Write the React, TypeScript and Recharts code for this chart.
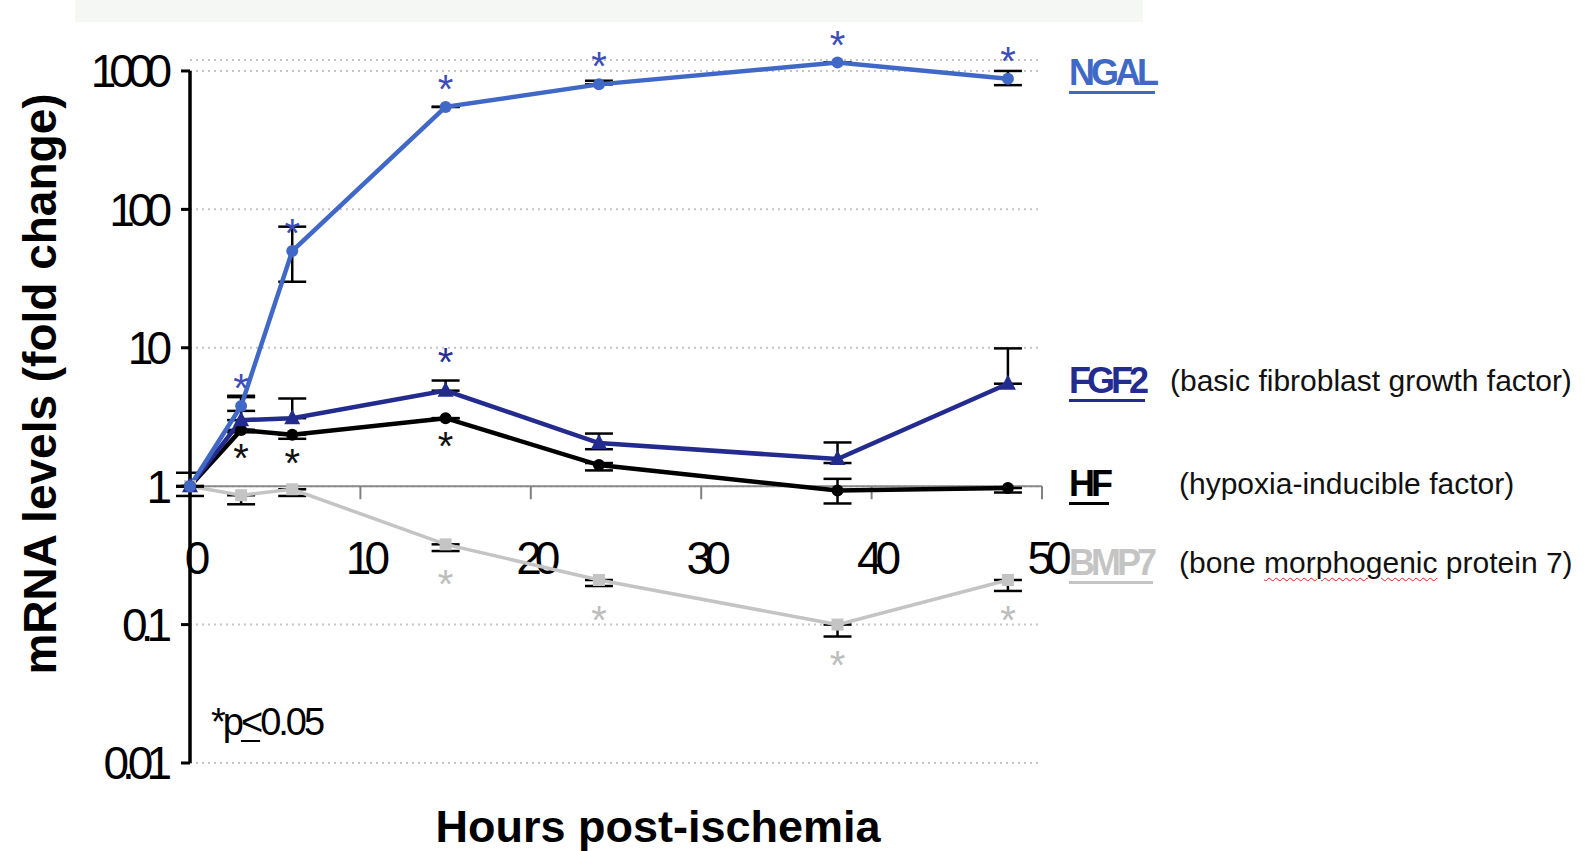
import React from 'react';
import {
  LineChart,
  Line,
  XAxis,
  YAxis,
  CartesianGrid,
  ErrorBar,
  LabelList,
  ReferenceLine,
  Legend,
} from 'recharts';

// Horas tras la isquemia
const horas = [0, 3, 6, 15, 24, 38, 48];

// Niveles de ARNm (veces de cambio)
const ngal = [1, 3.8, 50, 550, 800, 1150, 880];
const fgf2 = [1, 3.0, 3.1, 4.9, 2.05, 1.57, 5.5];
const hf = [1, 2.55, 2.35, 3.1, 1.42, 0.93, 0.97];
const bmp7 = [1, 0.86, 0.95, 0.38, 0.21, 0.1, 0.21];

// Barras de error [hacia abajo, hacia arriba]
const ngalErr = [[0, 0], [0.3, 0.7], [20, 25], [0, 0], [0, 50], [0, 0], [90, 120]];
const fgf2Err = [[0, 0], [0, 1.4], [0, 1.2], [0, 0.9], [0.2, 0.35], [0.1, 0.5], [0, 4.4]];
const hfErr = [[0.15, 0.25], [0.1, 0], [0.15, 0], [0, 0], [0.12, 0.05], [0.18, 0.2], [0.07, 0]];
const bmp7Err = [[0, 0], [0.12, 0], [0.1, 0], [0.04, 0], [0.02, 0], [0.018, 0], [0.035, 0]];

// Significación (p<0.05)
const ngalSig = [0, 1, 1, 1, 1, 1, 1];
const fgf2Sig = [0, 0, 0, 1, 0, 0, 0];
const hfSig = [0, 1, 1, 1, 0, 0, 0];
const bmp7Sig = [0, 0, 0, 1, 1, 1, 1];

const ticksY = [0.01, 0.1, 1, 10, 100, 1000];
const ticksX = [0, 10, 20, 30, 40, 50];

const nombres = ['NGAL', 'FGF2', 'HF', 'BMP7'];
const descripciones = ['', '(basic fibroblast growth factor)', '(hypoxia-inducible factor)', '(bone morphogenic protein 7)'];

const datos = horas.map((h, i) => ({
  h,
  ngal: ngal[i],
  fgf2: fgf2[i],
  hf: hf[i],
  bmp7: bmp7[i],
  ngalErr: ngalErr[i],
  fgf2Err: fgf2Err[i],
  hfErr: hfErr[i],
  bmp7Err: bmp7Err[i],
  ngalSig: ngalSig[i],
  fgf2Sig: fgf2Sig[i],
  hfSig: hfSig[i],
  bmp7Sig: bmp7Sig[i],
}));

const FUENTE = '"Liberation Sans", Arial, Helvetica, sans-serif';

const COLORES = {
  ngal: '#4068c6',
  fgf2: '#242b8e',
  hf: '#000000',
  bmp7: '#c4c4c4',
};

const punto = (forma: string, color: string) => (props: any) => {
  const { cx, cy, index } = props;
  if (cx == null || cy == null) return <g key={`p-${index}`} />;
  if (forma === 'triangulo') {
    return <path key={`p-${index}`} d={`M${cx},${cy - 9}L${cx + 8},${cy + 6}L${cx - 8},${cy + 6}Z`} fill={color} />;
  }
  if (forma === 'cuadrado') {
    return <rect key={`p-${index}`} x={cx - 6} y={cy - 6} width={12} height={12} fill={color} />;
  }
  return <circle key={`p-${index}`} cx={cx} cy={cy} r={6} fill={color} />;
};

const estrella = (color: string, dy: number) => (props: any) => {
  const { x, y, value, index } = props;
  if (!value || x == null || y == null) return null;
  return (
    <text key={`s-${index}`} x={x} y={y + dy} textAnchor="middle" fontSize={40} fill={color} fontFamily={FUENTE}>
      *
    </text>
  );
};

// marca del eje X sobre la línea y = 1
const marcaX = (t: number) => (props: any) => {
  const { x1, y1 } = props;
  return (
    <g>
      {t > 0 && <line x1={x1} y1={y1} x2={x1} y2={y1 + 13} stroke="#808080" strokeWidth={2} />}
      <text x={x1 + 4} y={y1 + 88} textAnchor="middle" fontSize={46} letterSpacing={-7} fontFamily={FUENTE} fill="#000">
        {t}
      </text>
    </g>
  );
};

const posLeyenda: Record<string, { top: number; desc: number }> = {
  NGAL: { top: 55, desc: 0 },
  FGF2: { top: 363, desc: 1170 },
  HF: { top: 466, desc: 1179 },
  BMP7: { top: 545, desc: 1179 },
};

const Leyenda = (props: any) => {
  const { payload = [] } = props;
  return (
    <div style={{ position: 'relative', width: 1585, height: 851 }}>
      {payload.map((item: any) => {
        const nombre = item.value;
        const i = nombres.indexOf(nombre);
        const pos = posLeyenda[nombre];
        if (!pos) return null;
        const desc = descripciones[i];
        return (
          <React.Fragment key={nombre}>
            <div
              style={{
                position: 'absolute',
                left: 1069,
                top: pos.top,
                fontFamily: FUENTE,
                fontWeight: 'bold',
                fontSize: 36,
                lineHeight: '36px',
                letterSpacing: -4,
                color: item.color,
                textDecoration: 'underline',
                textDecorationThickness: '3px',
                textUnderlineOffset: '6px',
                whiteSpace: 'nowrap',
              }}
            >
              {nombre}
            </div>
            {desc && (
              <div
                style={{
                  position: 'absolute',
                  left: pos.desc,
                  top: pos.top + 3,
                  fontFamily: FUENTE,
                  fontSize: 30,
                  lineHeight: '30px',
                  color: '#111',
                  whiteSpace: 'nowrap',
                }}
              >
                {desc.split(' ').map((palabra, k) => (
                  <React.Fragment key={k}>
                    {k > 0 && ' '}
                    {palabra === 'morphogenic' ? (
                      <span style={{ textDecoration: 'underline wavy #e02020', textDecorationThickness: '1px', textUnderlineOffset: '4px' }}>
                        {palabra}
                      </span>
                    ) : (
                      palabra
                    )}
                  </React.Fragment>
                ))}
              </div>
            )}
          </React.Fragment>
        );
      })}
    </div>
  );
};

export default function App() {
  return (
    <div style={{ position: 'absolute', left: 0, top: 0, width: 1585, height: 851, background: '#fff', overflow: 'hidden' }}>
      <div style={{ position: 'absolute', left: 75, top: 0, width: 1068, height: 22, background: '#f5f7f5' }} />
      <LineChart width={1585} height={851} data={datos} margin={{ top: 60, right: 543, bottom: 0, left: 0 }}>
        <CartesianGrid vertical={false} stroke="#c4c4c4" strokeWidth={2} strokeDasharray="2 4" />
        <XAxis
          dataKey="h"
          type="number"
          domain={[0, 50]}
          ticks={ticksX}
          tick={false}
          tickLine={false}
          axisLine={false}
          height={88}
          label={{
            content: () => (
              <text x={658} y={842} textAnchor="middle" fontSize={45} fontWeight="bold" fontFamily={FUENTE} fill="#000">
                Hours post-ischemia
              </text>
            ),
          }}
        />
        <YAxis
          scale="log"
          domain={[0.01, 1200]}
          ticks={ticksY}
          width={190}
          axisLine={false}
          tickLine={{ stroke: '#000', strokeWidth: 3 }}
          tickSize={9}
          tickMargin={16}
          tickFormatter={(v: number) => String(v)}
          tick={{ fontSize: 46, fill: '#000', fontFamily: FUENTE, letterSpacing: -7 }}
          label={{
            content: () => (
              <text
                x={56}
                y={384}
                transform="rotate(-90, 56, 384)"
                textAnchor="middle"
                fontSize={46}
                fontWeight="bold"
                fontFamily={FUENTE}
                fill="#000"
              >
                mRNA levels (fold change)
              </text>
            ),
          }}
        />
        <ReferenceLine y={1} stroke="#8a8a8a" strokeWidth={2} ifOverflow="visible" />
        {ticksX.map((t) => (
          <ReferenceLine
            key={`tx-${t}`}
            segment={[{ x: t, y: 1 }, { x: t, y: 1 }]}
            ifOverflow="visible"
            shape={marcaX(t)}
          />
        ))}
        <ReferenceLine
          segment={[{ x: 0, y: 0.01 }, { x: 0, y: 1000 }]}
          stroke="#000"
          strokeWidth={3.5}
          ifOverflow="visible"
        />
        <Legend
          layout="vertical"
          align="center"
          verticalAlign="middle"
          wrapperStyle={{ left: 0, top: 0, width: 1585, height: 851, pointerEvents: 'none' }}
          content={<Leyenda />}
        />
        <Line
          dataKey="bmp7"
          name="BMP7"
          stroke={COLORES.bmp7}
          strokeWidth={3.5}
          dot={punto('cuadrado', COLORES.bmp7)}
          isAnimationActive={false}
        >
          <ErrorBar dataKey="bmp7Err" width={14} strokeWidth={2.5} stroke="#000" direction="y" />
          <LabelList dataKey="bmp7Sig" content={estrella('#bdbdbd', 54)} />
        </Line>
        <Line
          dataKey="hf"
          name="HF"
          stroke={COLORES.hf}
          strokeWidth={4.5}
          dot={punto('circulo', COLORES.hf)}
          isAnimationActive={false}
        >
          <ErrorBar dataKey="hfErr" width={14} strokeWidth={2.5} stroke="#000" direction="y" />
          <LabelList dataKey="hfSig" content={estrella('#111', 42)} />
        </Line>
        <Line
          dataKey="fgf2"
          name="FGF2"
          stroke={COLORES.fgf2}
          strokeWidth={4.5}
          dot={punto('triangulo', COLORES.fgf2)}
          isAnimationActive={false}
        >
          <ErrorBar dataKey="fgf2Err" width={14} strokeWidth={2.5} stroke="#000" direction="y" />
          <LabelList dataKey="fgf2Sig" content={estrella('#2a2f95', -15)} />
        </Line>
        <Line
          dataKey="ngal"
          name="NGAL"
          stroke={COLORES.ngal}
          strokeWidth={4.5}
          dot={punto('circulo', COLORES.ngal)}
          isAnimationActive={false}
        >
          <ErrorBar dataKey="ngalErr" width={14} strokeWidth={2.5} stroke="#000" direction="y" />
          <LabelList dataKey="ngalSig" content={estrella('#3d4db7', -4)} />
        </Line>
      </LineChart>
      <div
        style={{
          position: 'absolute',
          left: 211,
          top: 703,
          fontFamily: FUENTE,
          fontSize: 38,
          lineHeight: '38px',
          letterSpacing: -3,
          color: '#000',
          whiteSpace: 'nowrap',
        }}
      >
        *p<span style={{ textDecoration: 'underline', textUnderlineOffset: '5px', textDecorationThickness: '2px' }}>&lt;</span>0.05
      </div>
    </div>
  );
}
